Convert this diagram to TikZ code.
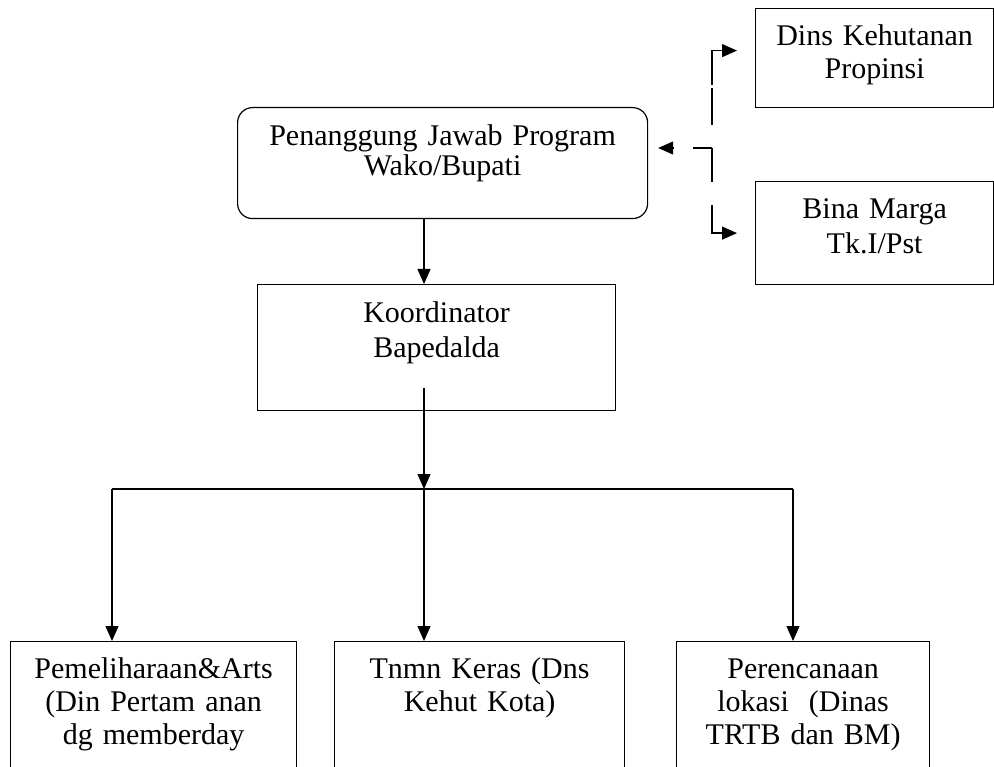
\documentclass[tikz,border=0pt]{standalone}
\usepackage{fontspec}
\setmainfont{Liberation Serif}
\usetikzlibrary{arrows.meta}

\begin{document}
\begin{tikzpicture}[x=1pt, y=-1pt, line width=1.2pt,
    every node/.style={font=\fontsize{30}{33}\selectfont},
    box/.style={draw, anchor=north west, inner sep=0pt, align=center, text height=37pt},
    arr/.style={-{Triangle[length=15pt,width=13pt]}}]
  \clip (0,0) rectangle (994,767);
  \node[box, rounded corners=15pt, text width=410pt, text height=38pt, text depth=73pt] (pj) at (237,107) {Penanggung Jawab Program\\[-3pt]Wako/Bupati};
  \node[box, text width=358pt, text height=38pt, text depth=88pt] (koord) at (257,284) {Koordinator\\[2pt]Bapedalda};
  \node[box, text width=238pt, text depth=62pt] (dins) at (755,8) {Dins Kehutanan\\Propinsi};
  \node[box, text width=238pt, text depth=66pt] (bina) at (755,181) {Bina Marga\\[2pt]Tk.I/Pst};
  \node[box, text width=286pt, text depth=150pt] (b1) at (10,641) {Pemeliharaan\&Arts\\(Din Pertam anan\\dg memberday};
  \node[box, text width=290pt, text depth=150pt] (b2) at (334,641) {Tnmn Keras (Dns\\Kehut Kota)};
  \node[box, text width=253pt, text depth=150pt] (b3) at (676,641) {Perencanaan\\lokasi\ \ (Dinas\\TRTB dan BM)};

  % koordinasi (putus-putus)
  \coordinate (split) at (712,148);
  \draw[arr, dash pattern=on 37pt off 3pt on 60pt off 23pt, dash phase=100pt, shorten >=18pt] (split) |- ([yshift=7.5pt]dins.west);
  \draw[arr, dash pattern=on 34pt off 23pt on 80pt off 10pt, shorten >=18pt] (split) |- (bina.west);
  \draw[arr, dash pattern=on 19pt off 20pt on 40pt off 10pt, shorten >=10pt] (split) -- (split -| pj.east);

  % garis komando
  \coordinate (bus) at (424,489);
  \coordinate (d1) at (112,489);
  \coordinate (d3) at (793,489);
  \draw[arr] (pj.south -| bus) -- (koord.north -| bus);
  \draw[arr] (bus |- koord.south) ++(0,-23) -- (bus);
  \draw (d1) -- (d3);
  \foreach \c in {d1,bus,d3}
    \draw[arr] (\c) -- (\c |- b1.north);
\end{tikzpicture}
\end{document}
